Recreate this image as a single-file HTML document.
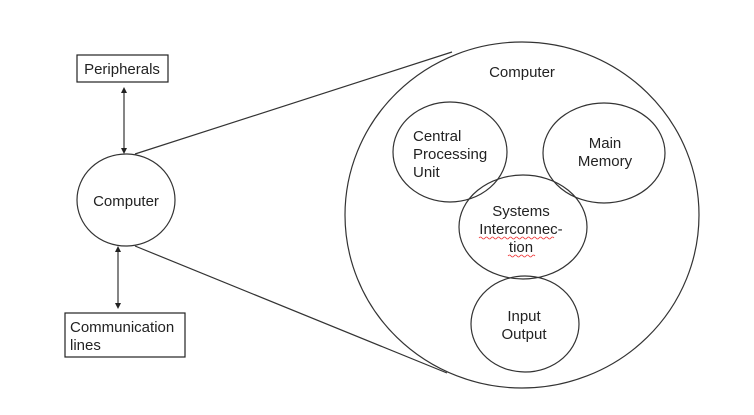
<!DOCTYPE html>
<html><head><meta charset="utf-8"><style>
html,body{margin:0;padding:0;background:#fff;width:754px;height:415px;overflow:hidden}
svg text{font-family:"Liberation Sans",Arial,sans-serif;font-size:15px;fill:#222}
</style></head><body>
<svg width="754" height="415" viewBox="0 0 754 415" xmlns="http://www.w3.org/2000/svg">
<defs>
<marker id="a" markerWidth="6" markerHeight="6" refX="3" refY="3" orient="auto-start-reverse" markerUnits="userSpaceOnUse"><path d="M0,0 L6,3 L0,6 z" fill="#222"/></marker>
</defs>
<g fill="none" stroke="#333" stroke-width="1.2">
<rect x="77" y="55" width="91" height="27" stroke="#222"/>
<rect x="65" y="313" width="120" height="44" stroke="#222"/>
<ellipse cx="126" cy="200" rx="49" ry="46"/>
<line x1="124" y1="90" x2="124" y2="151" marker-start="url(#a)" marker-end="url(#a)"/>
<line x1="118" y1="249" x2="118" y2="306" marker-start="url(#a)" marker-end="url(#a)"/>
<line x1="135" y1="154" x2="452" y2="52"/>
<line x1="135" y1="246" x2="447" y2="373"/>
<ellipse cx="522" cy="215" rx="177" ry="173"/>
<ellipse cx="450" cy="152" rx="57" ry="50"/>
<ellipse cx="604" cy="153" rx="61" ry="50"/>
<ellipse cx="523" cy="227" rx="64" ry="52"/>
<ellipse cx="525" cy="324" rx="54" ry="48"/>
</g>
<text x="122" y="74" text-anchor="middle">Peripherals</text>
<text x="70" y="332">Communication</text>
<text x="70" y="350">lines</text>
<text x="126" y="206" text-anchor="middle">Computer</text>
<text x="522" y="77" text-anchor="middle">Computer</text>
<text x="413" y="141">Central</text>
<text x="413" y="159">Processing</text>
<text x="413" y="177">Unit</text>
<text x="605" y="148" text-anchor="middle">Main</text>
<text x="605" y="166" text-anchor="middle">Memory</text>
<text x="521" y="216" text-anchor="middle">Systems</text>
<text x="521" y="234" text-anchor="middle">Interconnec-</text>
<text x="521" y="252" text-anchor="middle">tion</text>
<text x="524" y="321" text-anchor="middle">Input</text>
<text x="524" y="339" text-anchor="middle">Output</text>
<path d="M479,238 q1.5,-2 3,0 t3,0 t3,0 t3,0 t3,0 t3,0 t3,0 t3,0 t3,0 t3,0 t3,0 t3,0 t3,0 t3,0 t3,0 t3,0 t3,0 t3,0 t3,0 t3,0 t3,0 t3,0 t3,0 t3,0 t3,0" fill="none" stroke="#e33" stroke-width="0.8"/>
<path d="M508,256 q1.5,-2 3,0 t3,0 t3,0 t3,0 t3,0 t3,0 t3,0 t3,0 t3,0" fill="none" stroke="#e33" stroke-width="0.8"/>
</svg>
</body></html>
